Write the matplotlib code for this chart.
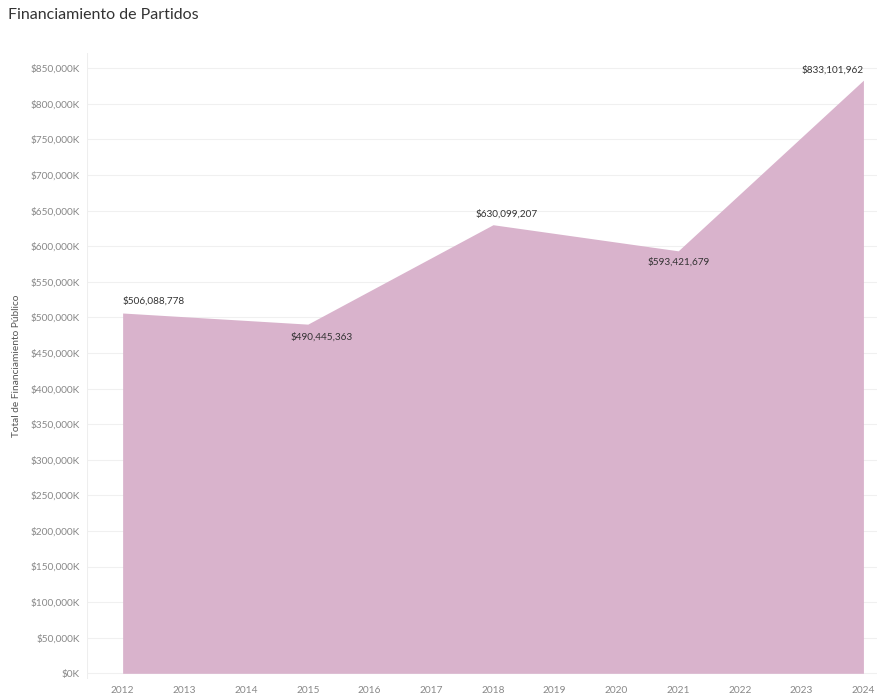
import matplotlib.pyplot as plt
from matplotlib.ticker import FuncFormatter

years = [2012, 2015, 2018, 2021, 2024]
totals = [506088778, 490445363, 630099207, 593421679, 833101962]
tick_years = list(range(2012, 2025))

plt.rcParams['font.family'] = ['Lato', 'DejaVu Sans']

fig = plt.figure(figsize=(8.77, 7.0), dpi=100)
ax = fig.add_axes([0.099, 0.03, 0.901, 0.895])

ax.fill_between(years, totals, 0, color='#d9b3cc', linewidth=0)

# labels on the points
lab = dict(textcoords='offset points', fontsize=7.2, color='#333333')
ax.annotate('$%s' % format(totals[0], ','), (years[0], totals[0]), xytext=(0, 5),
            ha='left', va='bottom', **lab)
ax.annotate('$%s' % format(totals[1], ','), (years[1], totals[1]), xytext=(10, -6),
            ha='center', va='top', **lab)
ax.annotate('$%s' % format(totals[2], ','), (years[2], totals[2]), xytext=(10, 4),
            ha='center', va='bottom', **lab)
ax.annotate('$%s' % format(totals[3], ','), (years[3], totals[3]), xytext=(0, -5),
            ha='center', va='top', **lab)
ax.annotate('$%s' % format(totals[4], ','), (years[4], totals[4]), xytext=(0, 4),
            ha='right', va='bottom', **lab)

ax.set_xlim(2011.42, 2024.22)
ax.set_ylim(-8e6, 872e6)
ax.set_xticks(tick_years)
ax.set_yticks(range(0, 850000001, 50000000))
ax.yaxis.set_major_formatter(FuncFormatter(lambda v, p: '$%sK' % format(int(v / 1000), ',')))
ax.tick_params(axis='both', length=0, labelsize=7.3, labelcolor='#888888')
ax.tick_params(axis='y', pad=5)
ax.tick_params(axis='x', pad=5)
ax.grid(axis='y', color='#f0f0f0', linewidth=0.8)
ax.set_axisbelow(True)
for s in ax.spines.values():
    s.set_visible(False)
ax.axvline(2011.42, color='#eeeeee', linewidth=0.8)

ax.set_ylabel('Total de Financiamiento Público', fontsize=7.3, color='#555555', labelpad=7)
fig.text(0.009, 0.979, 'Financiamiento de Partidos', fontsize=11.5, color='#333333', va='center')

plt.savefig('out.png', dpi=100)
